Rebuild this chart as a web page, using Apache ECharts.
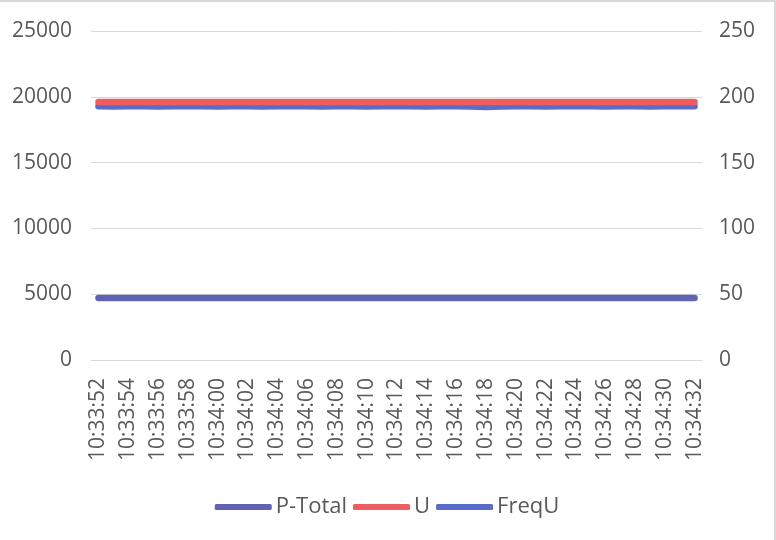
<!DOCTYPE html>
<html>
<head>
<meta charset="utf-8">
<script src="https://cdn.jsdelivr.net/npm/echarts@6/dist/echarts.min.js"></script>
<style>
    html, body {margin: 0; padding: 0; background: #fff;}
    #chart {width: 776px; height: 540px; box-sizing: border-box; border-top: 2px solid #d9d9d9; border-right: 2px solid #d9d9d9;}
</style>
</head>
<body>
<div id="chart"></div>
<script>
    // time labels, one point per second
    const times = ['10:33:52', '10:33:53', '10:33:54', '10:33:55', '10:33:56', '10:33:57', '10:33:58', '10:33:59',
        '10:34:00', '10:34:01', '10:34:02', '10:34:03', '10:34:04', '10:34:05', '10:34:06', '10:34:07',
        '10:34:08', '10:34:09', '10:34:10', '10:34:11', '10:34:12', '10:34:13', '10:34:14', '10:34:15',
        '10:34:16', '10:34:17', '10:34:18', '10:34:19', '10:34:20', '10:34:21', '10:34:22', '10:34:23',
        '10:34:24', '10:34:25', '10:34:26', '10:34:27', '10:34:28', '10:34:29', '10:34:30', '10:34:31', '10:34:32'];
    // left axis
    const pTotal = [4710, 4710, 4712, 4710, 4708, 4710, 4711, 4710, 4710, 4709, 4710, 4712, 4710, 4710, 4711, 4710,
        4709, 4710, 4710, 4711, 4710, 4710, 4709, 4710, 4711, 4710, 4708, 4710, 4710, 4711, 4710, 4710,
        4709, 4710, 4710, 4711, 4710, 4710, 4709, 4710, 4710];
    // right axis
    const u = [196.1, 196.1, 196.0, 196.1, 196.1, 196.0, 196.1, 196.1, 196.1, 196.0, 196.1, 196.1, 196.1, 196.0,
        196.1, 196.1, 196.1, 196.0, 196.1, 196.1, 196.1, 196.0, 196.1, 196.1, 196.1, 196.0, 196.1, 196.1,
        196.1, 196.0, 196.1, 196.1, 196.1, 196.0, 196.1, 196.1, 196.1, 196.0, 196.1, 196.1, 196.1];
    const freqU = [192.8, 192.7, 192.8, 192.8, 192.7, 192.8, 192.8, 192.8, 192.7, 192.8, 192.8, 192.7, 192.8, 192.8,
        192.8, 192.7, 192.8, 192.8, 192.7, 192.8, 192.8, 192.8, 192.7, 192.8, 192.8, 192.6, 192.3, 192.7,
        192.8, 192.8, 192.7, 192.8, 192.8, 192.8, 192.7, 192.8, 192.8, 192.7, 192.8, 192.8, 192.8];

    const font = '"Open Sans", sans-serif';
    const txt = '#595959';
    const chart = echarts.init(document.getElementById('chart'));
    const lineSeries = (name, data, color, axis) => ({
        name: name, type: 'line', data: data, yAxisIndex: axis, symbol: 'none', smooth: false,
        itemStyle: {color: color},
        lineStyle: {color: color, width: 6.5, cap: 'round', join: 'round'}
    });
    chart.setOption({
        animation: false,
        textStyle: {fontFamily: font},
        grid: {left: 91, right: 72, top: 29, bottom: 180},
        legend: {
            bottom: 17, left: 'center', icon: 'roundRect', itemWidth: 57, itemHeight: 6, itemGap: 6,
            textStyle: {fontSize: 22, color: txt, fontFamily: font, padding: [0, 0, 0, -1]},
            data: ['P-Total', 'U', 'FreqU']
        },
        xAxis: {
            type: 'category', data: times, boundaryGap: true,
            axisLine: {show: true, onZero: false, lineStyle: {color: '#d9d9d9', width: 1}},
            axisTick: {show: false},
            axisLabel: {interval: 1, rotate: 90, margin: 18, fontSize: 21, color: txt, fontFamily: font}
        },
        yAxis: [{
            type: 'value', min: 0, max: 25000, interval: 5000,
            axisLine: {show: false}, axisTick: {show: false},
            axisLabel: {margin: 19, fontSize: 21, color: txt, fontFamily: font, formatter: v => String(v)},
            splitLine: {show: true, lineStyle: {color: '#d9d9d9', width: 1}}
        }, {
            type: 'value', min: 0, max: 250, interval: 50, position: 'right',
            axisLine: {show: false}, axisTick: {show: false},
            axisLabel: {margin: 17, fontSize: 21, color: txt, fontFamily: font},
            splitLine: {show: false}
        }],
        series: [
            lineSeries('P-Total', pTotal, '#6163b2', 0),
            lineSeries('FreqU', freqU, '#5a6cc9', 1),
            lineSeries('U', u, '#ef5e5e', 1)
        ]
    });
</script>
</body>
</html>
